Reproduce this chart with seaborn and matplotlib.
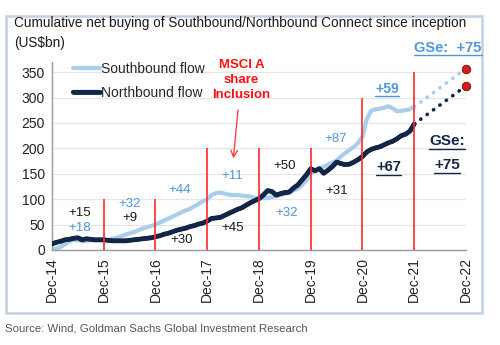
import matplotlib
matplotlib.use("Agg")
import matplotlib.pyplot as plt
import matplotlib.patheffects as pe
from matplotlib.lines import Line2D
from matplotlib.patches import Rectangle
import numpy as np
import pandas as pd
import seaborn as sns

# Months since Dec-2014 (0 = Dec-14, 84 = Dec-21)
months = list(range(0, 85))

# Cumulative net buying, US$bn, month-end
southbound = [1, 3, 6, 11, 17, 20, 19, 17, 18, 19, 19, 19,
              19, 20, 22, 24, 27, 30, 33, 35, 39, 42, 45, 47,
              50, 54, 58, 62, 66, 70, 74, 78, 81, 86, 91, 96,
              100, 108, 112, 113, 111, 109, 108, 108, 107, 106, 105, 103,
              102, 102, 102, 104, 106, 108, 110, 113, 117, 121, 128, 138,
              150, 155, 160, 164, 168, 172, 176, 184, 191, 197, 203, 211,
              223, 258, 274, 277, 278, 280, 283, 279, 273, 274, 275, 277,
              282]
northbound = [12, 15, 17, 20, 21, 23, 24, 20, 22, 21, 20, 20,
              20, 19, 18, 18, 18, 18, 19, 20, 21, 22, 23, 24,
              26, 28, 31, 33, 36, 39, 41, 43, 46, 48, 51, 53,
              57, 62, 63, 64, 68, 72, 76, 80, 83, 88, 93, 97,
              101, 108, 117, 115, 108, 111, 113, 114, 122, 128, 138, 148,
              160, 156, 160, 151, 157, 164, 173, 170, 168, 169, 173, 178,
              184, 193, 198, 201, 203, 207, 211, 214, 219, 225, 228, 234,
              248]

# Forecast for 2022
forecast_months = [84, 96]
gse_increment = 75

# Year-end markers
year_ticks = [0, 12, 24, 36, 48, 60, 72, 84, 96]
year_labels = ["Dec-14", "Dec-15", "Dec-16", "Dec-17", "Dec-18",
               "Dec-19", "Dec-20", "Dec-21", "Dec-22"]
divider_months = [12, 24, 36, 48, 60, 72, 84]
divider_heights = [100, 100, 200, 200, 200, 300, 350]

# Annual changes: (text, month, value, style)
annual_notes = [
    ("+15", 6.5, 73, "nb"), ("+18", 6.5, 43, "sb"),
    ("+32", 18, 90, "sb"), ("+9", 18, 63, "nb"),
    ("+44", 29.7, 118, "sb"), ("+30", 30, 20, "nb"),
    ("+11", 41.8, 146, "sb"), ("+45", 42, 43, "nb"),
    ("+50", 54, 165, "nb"), ("+32", 54.5, 73, "sb"),
    ("+87", 65.7, 218, "sb"), ("+31", 66, 116, "nb"),
]

LIGHT = "#a9cdec"
LIGHT_TXT = "#4f97dc"
NAVY = "#13264a"
RED = "#ff2a2a"

sns.set_theme(style="white")
plt.rcParams["font.family"] = ["Liberation Sans", "DejaVu Sans"]

fig = plt.figure(figsize=(5.0, 3.45), dpi=100)
ax = fig.add_axes([0.104, 0.2754, 0.828, 0.5449])

df = pd.DataFrame({
    "month": months * 2,
    "value": southbound + northbound,
    "flow": ["Southbound flow"] * len(months) + ["Northbound flow"] * len(months),
})
sns.lineplot(data=df, x="month", y="value", hue="flow",
             palette={"Southbound flow": LIGHT, "Northbound flow": NAVY},
             linewidth=3.0, ax=ax, legend=False)
ax.lines[1].set_path_effects([pe.Stroke(linewidth=3.4, foreground="#0a1834"),
                              pe.Normal()])
ax.lines[1].set_zorder(3)
ax.lines[0].set_zorder(2.5)

# 2022 forecast, dotted
for series, col in [(southbound, LIGHT), (northbound, NAVY)]:
    start = series[-1]
    end = start + gse_increment
    ax.plot(forecast_months, [start, end], color=col, lw=2.6,
            linestyle=(0, (0.1, 2.1)), dash_capstyle="round", zorder=3)
    ax.scatter([forecast_months[-1]], [end], s=38, color="#d01c1c",
               edgecolor="#7a0f0f", linewidth=0.6, zorder=5, clip_on=False)

# Year dividers
ax.vlines(divider_months, 0, divider_heights, colors=RED, lw=1.2, zorder=4)

ax.set_xlim(0, 96)
ax.set_ylim(0, 370)
ax.set_yticks(range(0, 351, 50))
ax.set_xticks(year_ticks)
ax.set_xticklabels(year_labels, rotation=90)
ax.tick_params(axis="both", labelsize=10, colors="#222222", length=3,
               width=0.8, direction="out", pad=2)
ax.tick_params(axis="both", color="#8a8a8a")
ax.set_xlabel("")
ax.set_ylabel("")
ax.grid(axis="y", color="#e6e6e6", lw=0.9)
ax.set_axisbelow(True)
for s in ["top", "right"]:
    ax.spines[s].set_visible(False)
for s in ["left", "bottom"]:
    ax.spines[s].set_color("#9a9a9a")
    ax.spines[s].set_linewidth(1.0)

# Legend
handles = [Line2D([], [], color=LIGHT, lw=3.0),
           Line2D([], [], color=NAVY, lw=3.0,
                  path_effects=[pe.Stroke(linewidth=3.4, foreground="#0a1834"), pe.Normal()])]
ax.legend(handles, ["Southbound flow", "Northbound flow"], loc="upper left",
          bbox_to_anchor=(0.038, 1.03), frameon=False, fontsize=10,
          handlelength=1.95, handletextpad=0.05, labelspacing=0.75,
          borderaxespad=0)

for text, m, v, style in annual_notes:
    ax.text(m, v, text, ha="center", va="center", fontsize=9.5,
            color=LIGHT_TXT if style == "sb" else "#1a1a1a", zorder=6)

underlined = []
underlined.append(ax.text(77.7, 317, "+59", ha="center", va="center",
                          fontsize=10, fontweight="bold", color=LIGHT_TXT))
underlined.append(ax.text(78, 163, "+67", ha="center", va="center",
                          fontsize=10.5, fontweight="bold", color=NAVY))
underlined.append(ax.text(91.8, 398, "GSe:  +75", ha="center", va="center",
                          fontsize=10.5, fontweight="bold", color=LIGHT_TXT,
                          clip_on=False))
underlined.append(ax.text(91.6, 214, "GSe:", ha="center", va="center",
                          fontsize=11, fontweight="bold", color=NAVY,
                          clip_on=False))
underlined.append(ax.text(91.6, 167, "+75", ha="center", va="center",
                          fontsize=11, fontweight="bold", color=NAVY,
                          clip_on=False))

ax.text(43.9, 335, "MSCI A\nshare\nInclusion", ha="center", va="center",
        fontsize=9.5, fontweight="bold", color="#ff1010", linespacing=1.35,
        clip_on=False)
ax.annotate("", xy=(42, 175), xytext=(43.2, 281),
            arrowprops=dict(arrowstyle="->", color="#ff3030", lw=0.9,
                            mutation_scale=12))

# Title and source
fig.text(0.028, 0.933, "Cumulative net buying of Southbound/Northbound Connect since inception",
         fontsize=9.8, color="#1a1a1a", va="center", ha="left")
fig.text(0.028, 0.875, "(US$bn)", fontsize=9.8, color="#1a1a1a", va="center", ha="left")
fig.text(0.01, 0.049, "Source: Wind, Goldman Sachs Global Investment Research",
         fontsize=8.2, color="#555555", va="center", ha="left")

# Panel frame
fig.add_artist(Rectangle((0.012, 0.093), 0.952, 0.861, transform=fig.transFigure,
                         fill=False, edgecolor="#c3d0e0", lw=1.8))

# Underlines beneath the highlighted figures
fig.canvas.draw()
renderer = fig.canvas.get_renderer()
inv = fig.transFigure.inverted()
for t in underlined:
    bb = t.get_window_extent(renderer)
    y = bb.y0 - 0.5
    (x0, yf), (x1, _) = inv.transform([(bb.x0, y), (bb.x1, y)])
    fig.add_artist(Line2D([x0, x1], [yf, yf], transform=fig.transFigure,
                          color=t.get_color(), lw=1.0))

fig.savefig("out.png", dpi=100)
